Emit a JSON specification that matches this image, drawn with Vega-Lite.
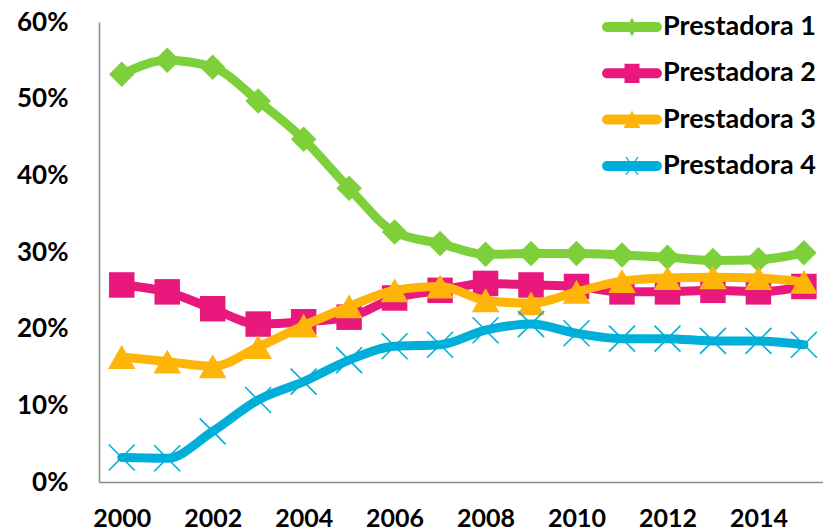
{
  "$schema": "https://vega.github.io/schema/vega-lite/v6.json",
  "autosize": {"type": "none"},
  "padding": {"left": 99, "top": 22, "right": 0, "bottom": 49},
  "width": 724,
  "height": 460,
  "background": "white",
  "config": {
    "view": {"stroke": null},
    "font": "Lato"
  },
  "data": {
    "values": [
      {"year": 2000, "series": "Prestadora 1", "share": 0.532},
      {"year": 2001, "series": "Prestadora 1", "share": 0.550},
      {"year": 2002, "series": "Prestadora 1", "share": 0.541},
      {"year": 2003, "series": "Prestadora 1", "share": 0.497},
      {"year": 2004, "series": "Prestadora 1", "share": 0.447},
      {"year": 2005, "series": "Prestadora 1", "share": 0.383},
      {"year": 2006, "series": "Prestadora 1", "share": 0.326},
      {"year": 2007, "series": "Prestadora 1", "share": 0.311},
      {"year": 2008, "series": "Prestadora 1", "share": 0.297},
      {"year": 2009, "series": "Prestadora 1", "share": 0.298},
      {"year": 2010, "series": "Prestadora 1", "share": 0.298},
      {"year": 2011, "series": "Prestadora 1", "share": 0.296},
      {"year": 2012, "series": "Prestadora 1", "share": 0.293},
      {"year": 2013, "series": "Prestadora 1", "share": 0.289},
      {"year": 2014, "series": "Prestadora 1", "share": 0.290},
      {"year": 2015, "series": "Prestadora 1", "share": 0.299},
      {"year": 2000, "series": "Prestadora 2", "share": 0.257},
      {"year": 2001, "series": "Prestadora 2", "share": 0.248},
      {"year": 2002, "series": "Prestadora 2", "share": 0.226},
      {"year": 2003, "series": "Prestadora 2", "share": 0.206},
      {"year": 2004, "series": "Prestadora 2", "share": 0.209},
      {"year": 2005, "series": "Prestadora 2", "share": 0.215},
      {"year": 2006, "series": "Prestadora 2", "share": 0.240},
      {"year": 2007, "series": "Prestadora 2", "share": 0.250},
      {"year": 2008, "series": "Prestadora 2", "share": 0.259},
      {"year": 2009, "series": "Prestadora 2", "share": 0.257},
      {"year": 2010, "series": "Prestadora 2", "share": 0.255},
      {"year": 2011, "series": "Prestadora 2", "share": 0.248},
      {"year": 2012, "series": "Prestadora 2", "share": 0.248},
      {"year": 2013, "series": "Prestadora 2", "share": 0.250},
      {"year": 2014, "series": "Prestadora 2", "share": 0.248},
      {"year": 2015, "series": "Prestadora 2", "share": 0.255},
      {"year": 2000, "series": "Prestadora 3", "share": 0.163},
      {"year": 2001, "series": "Prestadora 3", "share": 0.157},
      {"year": 2002, "series": "Prestadora 3", "share": 0.151},
      {"year": 2003, "series": "Prestadora 3", "share": 0.176},
      {"year": 2004, "series": "Prestadora 3", "share": 0.204},
      {"year": 2005, "series": "Prestadora 3", "share": 0.229},
      {"year": 2006, "series": "Prestadora 3", "share": 0.250},
      {"year": 2007, "series": "Prestadora 3", "share": 0.255},
      {"year": 2008, "series": "Prestadora 3", "share": 0.237},
      {"year": 2009, "series": "Prestadora 3", "share": 0.233},
      {"year": 2010, "series": "Prestadora 3", "share": 0.248},
      {"year": 2011, "series": "Prestadora 3", "share": 0.262},
      {"year": 2012, "series": "Prestadora 3", "share": 0.266},
      {"year": 2013, "series": "Prestadora 3", "share": 0.267},
      {"year": 2014, "series": "Prestadora 3", "share": 0.266},
      {"year": 2015, "series": "Prestadora 3", "share": 0.261},
      {"year": 2000, "series": "Prestadora 4", "share": 0.032},
      {"year": 2001, "series": "Prestadora 4", "share": 0.031},
      {"year": 2002, "series": "Prestadora 4", "share": 0.066},
      {"year": 2003, "series": "Prestadora 4", "share": 0.107},
      {"year": 2004, "series": "Prestadora 4", "share": 0.131},
      {"year": 2005, "series": "Prestadora 4", "share": 0.159},
      {"year": 2006, "series": "Prestadora 4", "share": 0.177},
      {"year": 2007, "series": "Prestadora 4", "share": 0.179},
      {"year": 2008, "series": "Prestadora 4", "share": 0.198},
      {"year": 2009, "series": "Prestadora 4", "share": 0.206},
      {"year": 2010, "series": "Prestadora 4", "share": 0.194},
      {"year": 2011, "series": "Prestadora 4", "share": 0.187},
      {"year": 2012, "series": "Prestadora 4", "share": 0.187},
      {"year": 2013, "series": "Prestadora 4", "share": 0.184},
      {"year": 2014, "series": "Prestadora 4", "share": 0.184},
      {"year": 2015, "series": "Prestadora 4", "share": 0.179}
    ]
  },
  "encoding": {
    "x": {
      "field": "year",
      "type": "quantitative",
      "scale": {"domain": [1999.5, 2015.42], "nice": false, "zero": false},
      "axis": {
        "title": null,
        "values": [2000, 2002, 2004, 2006, 2008, 2010, 2012, 2014],
        "format": "d",
        "grid": false,
        "ticks": false,
        "tickSize": 0,
        "labelBaseline": "middle",
        "labelPadding": 36,
        "labelFont": "Lato",
        "labelFontSize": 25,
        "labelFontWeight": "bold",
        "labelColor": "#000000",
        "labelFlush": false,
        "domainColor": "#8c8c8c",
        "domainWidth": 1.5
      }
    },
    "y": {
      "field": "share",
      "type": "quantitative",
      "scale": {"domain": [0, 0.6], "nice": false},
      "axis": {
        "title": null,
        "values": [0, 0.1, 0.2, 0.3, 0.4, 0.5, 0.6],
        "format": ".0%",
        "grid": false,
        "ticks": false,
        "tickSize": 0,
        "labelPadding": 31,
        "labelFont": "Lato",
        "labelFontSize": 26,
        "labelFontWeight": "bold",
        "labelColor": "#000000",
        "domainColor": "#8c8c8c",
        "domainWidth": 1.5
      }
    },
    "color": {
      "field": "series",
      "type": "nominal",
      "scale": {
        "domain": ["Prestadora 1", "Prestadora 2", "Prestadora 3", "Prestadora 4"],
        "range": ["#7ED03B", "#E9187C", "#FFB40A", "#00AEDA"]
      },
      "legend": {
        "title": null,
        "orient": "none",
        "legendX": 503,
        "legendY": -25,
        "symbolSize": 3600,
        "labelFont": "Lato",
        "labelFontSize": 27,
        "labelFontWeight": "bold",
        "labelColor": "#000000",
        "labelOffset": 1,
        "rowPadding": 3.3,
        "encode": {
          "symbols": {
            "update": {
              "shape": {"signal": "datum.value === 'Prestadora 1' ? 'M-0.83,-0.167L0.83,-0.167A0.167,0.167 0 0 1 0.83,0.167L-0.83,0.167A0.167,0.167 0 0 1 -0.83,-0.167Z M0,-0.32L0.17,0L0,0.32L-0.17,0Z' : datum.value === 'Prestadora 2' ? 'M-0.83,-0.167L0.83,-0.167A0.167,0.167 0 0 1 0.83,0.167L-0.83,0.167A0.167,0.167 0 0 1 -0.83,-0.167Z M-0.25,-0.32L0.25,-0.32L0.25,0.32L-0.25,0.32Z' : datum.value === 'Prestadora 3' ? 'M-0.83,-0.167L0.83,-0.167A0.167,0.167 0 0 1 0.83,0.167L-0.83,0.167A0.167,0.167 0 0 1 -0.83,-0.167Z M0,-0.3L0.28,0.28L-0.28,0.28Z' : 'M-0.83,-0.167L0.83,-0.167A0.167,0.167 0 0 1 0.83,0.167L-0.83,0.167A0.167,0.167 0 0 1 -0.83,-0.167Z M-0.22,-0.3L-0.17,-0.3L0.22,0.3L0.17,0.3Z M0.17,-0.3L0.22,-0.3L-0.17,0.3L-0.22,0.3Z'"},
              "fill": {"scale": "color", "field": "value"},
              "stroke": {"value": "transparent"},
              "strokeWidth": {"value": 0},
              "size": {"value": 3600},
              "opacity": {"value": 1}
            }
          }
        }
      }
    }
  },
  "layer": [
    {"transform": [{"filter": "datum.series === 'Prestadora 1'"}], "mark": {"type": "line", "strokeWidth": 9, "interpolate": "monotone", "strokeCap": "round", "strokeJoin": "round"}},
    {"transform": [{"filter": "datum.series === 'Prestadora 1'"}], "mark": {"type": "point", "shape": "diamond", "filled": true, "size": 650, "opacity": 1}},
    {"transform": [{"filter": "datum.series === 'Prestadora 2'"}], "mark": {"type": "line", "strokeWidth": 9, "interpolate": "monotone", "strokeCap": "round", "strokeJoin": "round"}},
    {"transform": [{"filter": "datum.series === 'Prestadora 2'"}], "mark": {"type": "point", "shape": "square", "filled": true, "size": 650, "opacity": 1}},
    {"transform": [{"filter": "datum.series === 'Prestadora 3'"}], "mark": {"type": "line", "strokeWidth": 9, "interpolate": "monotone", "strokeCap": "round", "strokeJoin": "round"}},
    {"transform": [{"filter": "datum.series === 'Prestadora 3'"}], "mark": {"type": "point", "shape": "triangle-up", "filled": true, "size": 760, "opacity": 1}},
    {"transform": [{"filter": "datum.series === 'Prestadora 4'"}], "mark": {"type": "line", "strokeWidth": 9, "interpolate": "monotone", "strokeCap": "round", "strokeJoin": "round"}},
    {"transform": [{"filter": "datum.series === 'Prestadora 4'"}], "mark": {"type": "point", "shape": "M-1,-1L1,1M-1,1L1,-1", "filled": false, "strokeWidth": 1.6, "size": 676, "opacity": 1}}
  ]
}
